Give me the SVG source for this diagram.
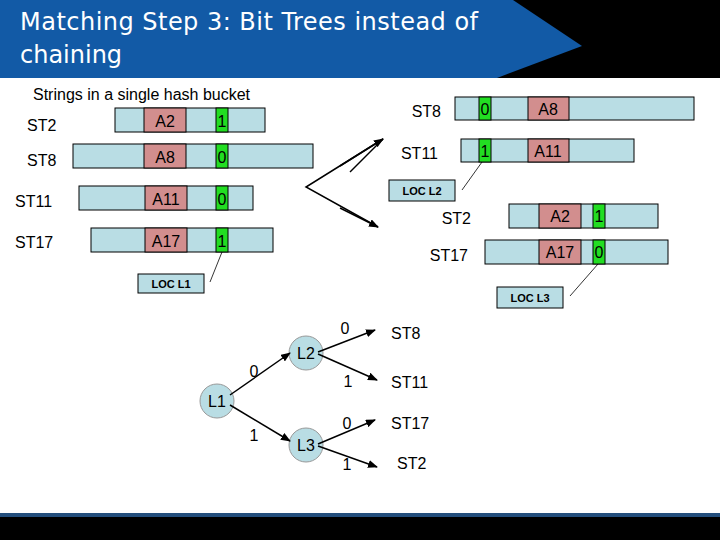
<svg xmlns="http://www.w3.org/2000/svg" width="720" height="540" viewBox="0 0 720 540">
<style>
.t{font-family:"Liberation Sans",Arial,sans-serif;fill:#000}
.bar{fill:#b9dde4;stroke:#000;stroke-width:1}
.a{fill:#d28e8e;stroke:#000;stroke-width:1}
.g{fill:#22dd22;stroke:#000;stroke-width:1}
.loc{fill:#b9dde4;stroke:#000;stroke-width:1}
.lt{font-family:"Liberation Sans",Arial,sans-serif;font-size:11px;font-weight:bold;text-anchor:middle}
.c{fill:#b9dde4;stroke:#999;stroke-width:1}
.ln{stroke:#000;stroke-width:1.5;fill:none}
.thin{stroke:#000;stroke-width:0.8;fill:none}
</style>
<defs><marker id="ar" markerWidth="10" markerHeight="8" refX="9" refY="4" orient="auto" markerUnits="userSpaceOnUse"><path d="M0,0 L10,4 L0,8 z" fill="#000"/></marker></defs>
<rect width="720" height="540" fill="#fff"/>
<rect x="0" y="0" width="720" height="78" fill="#000"/>
<polygon points="0,0 513,0 582,46 497,78 0,78" fill="#125aa6"/>
<rect x="0" y="513" width="720" height="4" fill="#234e7c"/>
<rect x="0" y="517" width="720" height="23" fill="#000"/>
<text x="20" y="30" font-family="DejaVu Sans,sans-serif" font-size="24" fill="#fff" textLength="458">Matching Step 3: Bit Trees instead of</text>
<text x="20" y="63" font-family="DejaVu Sans,sans-serif" font-size="24" fill="#fff">chaining</text>
<text class="t" x="33" y="100" font-size="16">Strings in a single hash bucket</text>

<g id="left-ST2"><text class="t" x="27" y="131" font-size="16">ST2</text><rect class="bar" x="115" y="108" width="150" height="24"/><rect class="a" x="144" y="108" width="42" height="24"/><rect class="g" x="216" y="108" width="12" height="24"/><text class="t" x="165" y="127" font-size="16" text-anchor="middle">A2</text><text class="t" x="222" y="127" font-size="16" text-anchor="middle">1</text></g>
<g id="left-ST8"><text class="t" x="27" y="166" font-size="16">ST8</text><rect class="bar" x="73" y="144" width="240" height="24"/><rect class="a" x="144" y="144" width="42" height="24"/><rect class="g" x="216" y="144" width="12" height="24"/><text class="t" x="165" y="163" font-size="16" text-anchor="middle">A8</text><text class="t" x="222" y="163" font-size="16" text-anchor="middle">0</text></g>
<g id="left-ST11"><text class="t" x="15" y="207" font-size="16">ST11</text><rect class="bar" x="79" y="186" width="174" height="24"/><rect class="a" x="145" y="186" width="42" height="24"/><rect class="g" x="216" y="186" width="12" height="24"/><text class="t" x="166" y="205" font-size="16" text-anchor="middle">A11</text><text class="t" x="222" y="205" font-size="16" text-anchor="middle">0</text></g>
<g id="left-ST17"><text class="t" x="15" y="248" font-size="16">ST17</text><rect class="bar" x="91" y="228" width="182" height="24"/><rect class="a" x="145" y="228" width="42" height="24"/><rect class="g" x="216" y="228" width="12" height="24"/><text class="t" x="166" y="247" font-size="16" text-anchor="middle">A17</text><text class="t" x="222" y="247" font-size="16" text-anchor="middle">1</text></g>
<g id="loc-L1"><rect class="loc" x="138" y="274" width="66" height="19"/><text class="lt" x="171" y="288">LOC L1</text></g>

<g id="right-ST8"><text class="t" x="441" y="117" font-size="16" text-anchor="end">ST8</text><rect class="bar" x="455" y="97" width="239" height="23"/><rect class="g" x="479" y="97" width="12" height="23"/><rect class="a" x="528" y="97" width="41" height="23"/><text class="t" x="485" y="115" font-size="16" text-anchor="middle">0</text><text class="t" x="548" y="115" font-size="16" text-anchor="middle">A8</text></g>
<g id="right-ST11"><text class="t" x="438" y="159" font-size="16" text-anchor="end">ST11</text><rect class="bar" x="461" y="139" width="173" height="23"/><rect class="g" x="479" y="139" width="12" height="23"/><rect class="a" x="528" y="139" width="41" height="23"/><text class="t" x="485" y="157" font-size="16" text-anchor="middle">1</text><text class="t" x="548" y="157" font-size="16" text-anchor="middle">A11</text></g>
<g id="loc-L2"><rect class="loc" x="389" y="180" width="66" height="21"/><text class="lt" x="422" y="195">LOC L2</text></g>
<g id="right-ST2"><text class="t" x="471" y="224" font-size="16" text-anchor="end">ST2</text><rect class="bar" x="509" y="204" width="149" height="24"/><rect class="a" x="539" y="204" width="42" height="24"/><rect class="g" x="593" y="204" width="12" height="24"/><text class="t" x="560" y="222" font-size="16" text-anchor="middle">A2</text><text class="t" x="599" y="222" font-size="16" text-anchor="middle">1</text></g>
<g id="right-ST17"><text class="t" x="468" y="261" font-size="16" text-anchor="end">ST17</text><rect class="bar" x="485" y="240" width="183" height="24"/><rect class="a" x="539" y="240" width="42" height="24"/><rect class="g" x="593" y="240" width="12" height="24"/><text class="t" x="560" y="258" font-size="16" text-anchor="middle">A17</text><text class="t" x="599" y="258" font-size="16" text-anchor="middle">0</text></g>
<g id="loc-L3"><rect class="loc" x="497" y="287" width="66" height="21"/><text class="lt" x="530" y="302">LOC L3</text></g>

<g id="L1"><circle class="c" cx="217" cy="401" r="17"/><text class="t" x="217" y="407" font-size="16" text-anchor="middle">L1</text></g>
<g id="L2"><circle class="c" cx="306" cy="353" r="17"/><text class="t" x="306" y="359" font-size="16" text-anchor="middle">L2</text></g>
<g id="L3"><circle class="c" cx="306" cy="445" r="17"/><text class="t" x="306" y="451" font-size="16" text-anchor="middle">L3</text></g>
<g id="leaves" font-size="16">
<text class="t" x="391" y="339" font-size="16">ST8</text>
<text class="t" x="391" y="388" font-size="16">ST11</text>
<text class="t" x="391" y="429" font-size="16">ST17</text>
<text class="t" x="397" y="469" font-size="16">ST2</text>
</g>

<g id="connectors">
<line class="thin" x1="222" y1="252" x2="210" y2="282"/>
<line class="thin" x1="482" y1="162" x2="462" y2="190"/>
<line class="thin" x1="598" y1="264" x2="570" y2="296"/>
<polyline class="ln" points="383,139 306,187 378,227" fill="none"/>
<line class="ln" x1="350" y1="172" x2="383" y2="139" stroke-width="0" />
<line class="ln" x1="340" y1="166" x2="383" y2="139" marker-end="url(#ar)"/>
<line class="ln" x1="340" y1="208" x2="378" y2="227" marker-end="url(#ar)"/>
<line class="ln" x1="230" y1="395" x2="290" y2="353" marker-end="url(#ar)"/>
<line class="ln" x1="230" y1="405" x2="290" y2="441" marker-end="url(#ar)"/>
<line class="ln" x1="318" y1="352" x2="375" y2="330" marker-end="url(#ar)"/>
<line class="ln" x1="318" y1="354" x2="377" y2="380" marker-end="url(#ar)"/>
<line class="ln" x1="318" y1="444" x2="375" y2="420" marker-end="url(#ar)"/>
<line class="ln" x1="318" y1="446" x2="377" y2="467" marker-end="url(#ar)"/>
</g>
<g id="edge-labels">
<text class="t" x="254" y="377" font-size="16" text-anchor="middle">0</text>
<text class="t" x="254" y="441" font-size="16" text-anchor="middle">1</text>
<text class="t" x="345" y="334" font-size="16" text-anchor="middle">0</text>
<text class="t" x="348" y="387" font-size="16" text-anchor="middle">1</text>
<text class="t" x="347" y="429" font-size="16" text-anchor="middle">0</text>
<text class="t" x="347" y="470" font-size="16" text-anchor="middle">1</text>
</g>
</svg>
